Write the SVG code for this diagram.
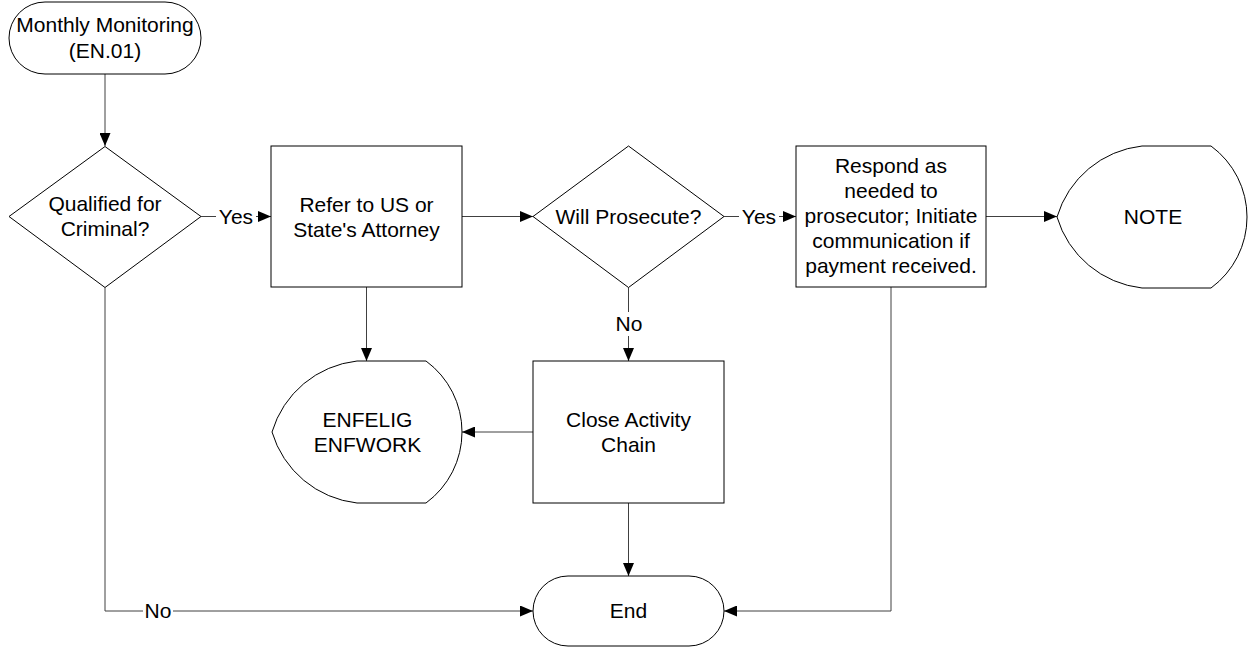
<svg xmlns="http://www.w3.org/2000/svg" width="1249" height="648" viewBox="0 0 1249 648">
<defs>
<style>
.shape{fill:#fff;stroke:#000;stroke-width:1}
.conn{fill:none;stroke:#404040;stroke-width:1}
.t{font-family:"Liberation Sans",Arial,sans-serif;font-size:21px;fill:#000;text-anchor:middle}
.lbl{fill:#fff;stroke:none}
</style>
<marker id="arr" markerUnits="userSpaceOnUse" markerWidth="13" markerHeight="11" viewBox="0 0 13 11" refX="13" refY="5.5" orient="auto">
<path d="M0,0 L13,5.5 L0,11 Z" fill="#000"/>
</marker>
</defs>
<rect width="1249" height="648" fill="#fff"/>

<g id="connectors">
<path class="conn" d="M105,74 V146" marker-end="url(#arr)"/>
<path class="conn" d="M201,216.5 H271" marker-end="url(#arr)"/>
<path class="conn" d="M462,216.5 H533" marker-end="url(#arr)"/>
<path class="conn" d="M724,216.5 H796" marker-end="url(#arr)"/>
<path class="conn" d="M986,216.5 H1057" marker-end="url(#arr)"/>
<path class="conn" d="M366.5,287 V361" marker-end="url(#arr)"/>
<path class="conn" d="M628.5,287.5 V361" marker-end="url(#arr)"/>
<path class="conn" d="M533,432 H462" marker-end="url(#arr)"/>
<path class="conn" d="M628.5,503 V576" marker-end="url(#arr)"/>
<path class="conn" d="M105,287.5 V611 H533" marker-end="url(#arr)"/>
<path class="conn" d="M891,287 V611 H724" marker-end="url(#arr)"/>
<rect class="lbl" x="216" y="205" width="40" height="24"/>
<text class="t" x="236" y="224">Yes</text>
<rect class="lbl" x="739" y="205" width="40" height="24"/>
<text class="t" x="759" y="224">Yes</text>
<rect class="lbl" x="614" y="312" width="30" height="24"/>
<text class="t" x="629" y="331">No</text>
<rect class="lbl" x="143" y="600" width="30" height="24"/>
<text class="t" x="158" y="618">No</text>
</g>

<g id="start">
<rect class="shape" x="9" y="2" width="192" height="72" rx="36" ry="36"/>
<text class="t" x="105" y="32">Monthly Monitoring</text>
<text class="t" x="105" y="58">(EN.01)</text>
</g>

<g id="qualified">
<path class="shape" d="M105,146.5 L201,216.5 L105,287.5 L9,216.5 Z"/>
<text class="t" x="105" y="211">Qualified for</text>
<text class="t" x="105" y="236">Criminal?</text>
</g>

<g id="refer">
<rect class="shape" x="271" y="146" width="191" height="141"/>
<text class="t" x="366.5" y="212">Refer to US or</text>
<text class="t" x="366.5" y="237">State's Attorney</text>
</g>

<g id="prosecute">
<path class="shape" d="M628.5,146 L724,216.5 L628.5,287.5 L533,216.5 Z"/>
<text class="t" x="628.5" y="224">Will Prosecute?</text>
</g>

<g id="respond">
<rect class="shape" x="796" y="146" width="190" height="141"/>
<text class="t" x="891" y="173">Respond as</text>
<text class="t" x="891" y="198">needed to</text>
<text class="t" x="891" y="223">prosecutor; Initiate</text>
<text class="t" x="891" y="248">communication if</text>
<text class="t" x="891" y="273">payment received.</text>
</g>

<g id="note">
<path class="shape" d="M1142,146 H1211 A88,88 0 0 1 1211,288 H1142 A100,100 0 0 1 1057,217 A100,100 0 0 1 1142,146 Z"/>
<text class="t" x="1153" y="224">NOTE</text>
</g>

<g id="enfelig">
<path class="shape" d="M357,361 H426 A88,88 0 0 1 426,503 H357 A100,100 0 0 1 272,432 A100,100 0 0 1 357,361 Z"/>
<text class="t" x="367.5" y="427">ENFELIG</text>
<text class="t" x="367.5" y="452">ENFWORK</text>
</g>

<g id="close">
<rect class="shape" x="533" y="361" width="191" height="142"/>
<text class="t" x="628.5" y="427">Close Activity</text>
<text class="t" x="628.5" y="452">Chain</text>
</g>

<g id="end">
<rect class="shape" x="533" y="576" width="191" height="70" rx="35" ry="35"/>
<text class="t" x="628.5" y="618">End</text>
</g>
</svg>
